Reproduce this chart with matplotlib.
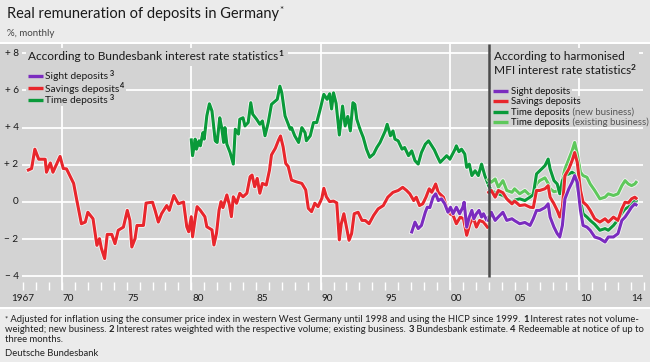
import matplotlib
matplotlib.use('Agg')
import matplotlib.pyplot as plt
import matplotlib.patheffects as pe
from matplotlib.patches import Rectangle
from matplotlib.lines import Line2D

# ---------------- data ----------------
# Bundesbank interest rate statistics
bb_savings_year = [1967.4, 1967.65, 1967.9, 1968.2, 1968.7, 1968.8, 1969.1, 1969.3, 1969.85, 1970.1,
                   1970.35, 1970.9, 1971.1, 1971.5, 1971.8, 1972.0, 1972.4, 1972.7, 1972.9, 1973.05,
                   1973.3, 1973.5, 1973.85, 1974.1, 1974.35, 1974.75, 1975.05, 1975.25, 1975.4, 1975.65,
                   1975.8, 1976.3, 1976.5, 1977.0, 1977.2, 1977.45, 1977.7, 1978.1, 1978.3, 1978.65,
                   1979.0, 1979.4, 1979.65, 1979.8, 1980.0, 1980.1, 1980.3, 1980.45, 1980.7, 1981.05,
                   1981.2, 1981.6, 1981.75, 1981.95, 1982.15, 1982.3, 1982.45, 1982.75, 1982.95, 1983.1,
                   1983.25, 1983.5, 1983.75, 1984.0, 1984.3, 1984.55, 1984.7, 1984.9, 1985.1, 1985.3,
                   1985.5, 1985.8, 1986.05, 1986.2, 1986.5, 1986.75, 1986.9, 1987.1, 1987.3, 1987.5,
                   1987.75, 1988.1, 1988.55, 1988.85, 1989.05, 1989.3, 1989.55, 1989.8, 1990.1, 1990.25,
                   1990.45, 1990.7, 1991.0, 1991.25, 1991.45, 1991.6, 1991.8, 1992.0, 1992.2, 1992.4,
                   1992.6, 1992.9, 1993.2, 1993.45, 1993.75, 1994.1, 1994.45, 1994.85, 1995.2, 1995.6,
                   1996.0, 1996.35, 1996.65, 1996.9, 1997.2, 1997.4, 1997.65, 1997.9, 1998.15, 1998.4,
                   1998.6, 1998.9, 1999.1, 1999.5, 1999.75, 2000.0, 2000.25, 2000.5, 2000.8, 2001.05,
                   2001.3, 2001.55, 2001.8, 2002.05, 2002.3, 2002.6, 2002.9]
bb_savings_value = [1.72, 1.8, 2.84, 2.3, 2.3, 1.6, 2.1, 1.6, 2.45, 1.8,
                    1.78, 1.0, 0.26, -1.17, -1.08, -0.55, -0.9, -2.33, -1.97, -2.5,
                    -3.04, -1.74, -1.74, -2.24, -1.52, -1.35, -0.45, -0.99, -2.42, -1.97,
                    -1.26, -1.26, -0.06, -0.01, -0.45, -1.08, -0.63, -0.19, -0.45, 0.35,
                    -0.1, 0.0, -1.33, -1.6, -0.79, -1.87, -0.88, -0.25, -0.45, -0.79,
                    -1.33, -1.5, -2.31, -1.68, -0.43, 0.02, -0.3, 0.38, -0.16, -0.79,
                    0.28, -0.07, 0.47, 0.28, 0.47, 1.36, 1.45, 0.82, 1.27, 0.47,
                    1.0, 0.91, 1.72, 2.53, 2.89, 3.33, 3.55, 2.97, 2.08, 1.9,
                    1.18, 1.09, 1.0, 0.65, -0.34, -0.52, -0.07, -0.25, 0.2, 0.74,
                    0.28, 0.02, 0.05, -0.05, -2.04, -1.17, -0.63, -1.35, -2.06, -1.7,
                    -0.63, -0.55, -0.99, -0.99, -1.17, -0.72, -0.37, -0.19, 0.26, 0.52,
                    0.62, 0.79, 0.62, 0.44, 0.08, 0.26, -0.19, -0.1, 0.26, 0.71,
                    0.52, 0.97, 0.52, 0.26, -0.28, -0.63, -0.72, -1.17, -0.81, -0.9,
                    -1.79, -1.17, -0.81, -1.35, -0.99, -1.08, -1.35]

bb_time_year = [1980.0, 1980.1, 1980.3, 1980.4, 1980.6, 1980.7, 1980.9, 1981.0, 1981.2, 1981.4,
                1981.6, 1981.7, 1981.85, 1982.0, 1982.2, 1982.35, 1982.5, 1982.6, 1982.75, 1983.0,
                1983.25, 1983.4, 1983.65, 1983.75, 1984.0, 1984.15, 1984.4, 1984.6, 1984.75, 1985.05,
                1985.3, 1985.5, 1985.7, 1985.95, 1986.2, 1986.5, 1986.65, 1986.85, 1987.0, 1987.25,
                1987.5, 1987.65, 1987.75, 1988.0, 1988.3, 1988.55, 1988.8, 1988.9, 1989.2, 1989.45,
                1989.7, 1990.0, 1990.25, 1990.5, 1990.7, 1990.85, 1991.0, 1991.2, 1991.45, 1991.7,
                1991.9, 1992.1, 1992.3, 1992.5, 1992.65, 1992.8, 1993.05, 1993.3, 1993.55, 1993.8,
                1994.1, 1994.35, 1994.6, 1995.0, 1995.15, 1995.4, 1995.6, 1995.75, 1996.0, 1996.3,
                1996.5, 1996.8, 1997.05, 1997.3, 1997.55, 1997.8, 1998.1, 1998.35, 1998.6, 1998.8,
                1999.0, 1999.25, 1999.5, 1999.75, 2000.0, 2000.4, 2000.5, 2000.7, 2000.9, 2001.15,
                2001.3, 2001.5, 2001.7, 2001.95, 2002.2, 2002.45, 2002.7, 2003.0]
bb_time_value = [3.34, 2.49, 3.38, 2.84, 3.29, 3.02, 3.73, 3.38, 4.63, 5.28,
                 4.89, 4.27, 3.29, 3.2, 4.53, 4.0, 3.2, 4.0, 3.11, 2.66,
                 2.04, 3.91, 3.65, 4.45, 4.53, 4.09, 4.27, 5.34, 4.72, 4.45,
                 4.18, 4.36, 3.56, 4.27, 5.25, 5.43, 5.52, 6.23, 5.87, 4.63,
                 4.18, 3.91, 4.0, 3.56, 3.2, 4.0, 3.73, 3.29, 3.56, 4.27,
                 4.27, 5.07, 5.79, 5.52, 5.82, 5.0, 5.87, 5.3, 3.6, 5.16,
                 4.09, 4.6, 3.82, 5.34, 5.25, 4.45, 3.91, 3.47, 2.84, 2.4,
                 2.58, 2.93, 3.2, 3.82, 4.18, 3.56, 3.82, 3.38, 3.29, 2.84,
                 2.93, 2.49, 2.75, 2.22, 2.04, 2.66, 3.11, 3.29, 3.02, 2.8,
                 2.49, 2.13, 2.31, 2.49, 2.3, 2.84, 3.02, 2.7, 2.84, 2.58,
                 1.86, 2.04, 1.42, 1.68, 1.42, 2.04, 1.42, 0.88]

bb_sight_year = [1997.05, 1997.3, 1997.55, 1997.8, 1998.1, 1998.25, 1998.45, 1998.7, 1998.9, 1999.1,
                 1999.35, 1999.6, 1999.85, 2000.05, 2000.25, 2000.5, 2000.75, 2001.0, 2001.1, 2001.3,
                 2001.5, 2001.7, 2001.85, 2002.05, 2002.25, 2002.45, 2002.6, 2002.85, 2003.0]
bb_sight_value = [-1.61, -1.08, -1.43, -1.26, -0.55, -0.28, -0.3, 0.26, 0.44, 0.08,
                  0.17, -0.1, -0.55, -0.28, -0.63, -0.28, -0.63, -0.28, -0.01, -1.35,
                  -0.81, -0.45, -0.9, -0.63, -0.45, -0.81, -0.63, -0.99, -0.81]

# Harmonised MFI interest rate statistics
mfi_year = [2003.0, 2003.2, 2003.5, 2003.75, 2004.1, 2004.4, 2004.8, 2005.0, 2005.4, 2005.8,
            2006.2, 2006.45, 2006.7, 2006.95, 2007.35, 2007.6, 2007.75, 2008.05, 2008.3, 2008.5,
            2008.7, 2008.9, 2009.2, 2009.45, 2009.65, 2009.85, 2010.1, 2010.3, 2010.6, 2010.85,
            2011.2, 2011.6, 2012.0, 2012.25, 2012.65, 2013.0, 2013.3, 2013.55, 2013.8, 2014.05,
            2014.3, 2014.4]
mfi_sight = [-0.99, -0.55, -0.99, -0.8, -0.55, -0.99, -0.9, -1.0, -1.17, -1.1,
             -1.26, -0.9, -0.45, -0.45, -0.3, -0.1, -0.81, -1.35, -1.7, -1.88,
             -1.26, 0.17, 0.71, 1.06, 1.42, 1.06, -0.45, -1.26, -1.35, -1.52,
             -1.88, -1.97, -2.15, -1.88, -1.88, -1.7, -0.99, -0.81, -0.55, -0.28,
             -0.1, -0.15]
mfi_savings = [0.52, 0.62, 0.26, 0.62, 0.5, 0.17, -0.1, 0.05, -0.19, -0.15,
               -0.28, -0.3, 0.62, 0.62, 0.71, 0.88, 0.26, -0.1, -0.45, -0.81,
               -0.28, 1.42, 1.78, 2.22, 2.66, 2.13, 0.62, -0.01, -0.19, -0.45,
               -0.9, -1.08, -0.9, -1.08, -0.81, -0.99, -0.37, -0.01, -0.05, 0.17,
               0.26, 0.2]
mfi_time_new = [0.88, 0.62, 0.5, 0.44, 0.35, 0.17, -0.01, 0.1, 0.17, 0.08,
                0.26, 0.4, 1.51, 1.68, 1.95, 2.31, 1.78, 1.15, 0.97, 0.44,
                1.15, 1.42, 1.51, 1.6, 1.5, 0.79, 0.08, -0.63, -0.81, -0.99,
                -1.2, -1.52, -1.43, -1.52, -1.26, -0.95, -0.6, -0.37, -0.28, -0.1,
                0.08, 0.05]
mfi_time_existing = [1.2, 1.06, 1.24, 0.79, 1.15, 0.62, 0.52, 0.71, 0.44, 0.62,
                     0.35, 0.52, 0.97, 1.15, 1.3, 1.0, 0.71, 0.55, 0.6, 0.52,
                     1.2, 1.78, 2.31, 2.75, 3.2, 2.58, 1.6, 1.42, 1.33, 0.97,
                     0.62, 0.17, 0.26, 0.44, 0.35, 0.44, 0.88, 1.15, 0.97, 0.88,
                     0.97, 1.06]

y_ticks = [-4, -2, 0, 2, 4, 6, 8]
y_tick_labels = ['\u2212 4', '\u2212 2', '0', '+ 2', '+ 4', '+ 6', '+ 8']
x_label_years = [1970, 1975, 1980, 1985, 1990, 1995, 2000, 2005, 2010, 2014]
x_labels = ['70', '75', '80', '85', '90', '95', '00', '05', '10', '14']
break_year = 2003.0

# ---------------- styling / layout ----------------
W, H = 650, 362
BG = '#d3d3d3'
BAND = '#ebebeb'
C_SIGHT = '#7b2cbf'
C_SAV = '#e8262c'
C_TNEW = '#0a9a3a'
C_TEX = '#5ec85c'
TXT = '#1a1a1a'

plt.rcParams['font.family'] = ['Lato', 'DejaVu Sans']
SANS = ['Lato', 'DejaVu Sans']

fig = plt.figure(figsize=(W / 100, H / 100), dpi=100)
fig.patch.set_facecolor(BAND)


def fx(p):
    return p / W


def fy(p):
    return 1 - p / H


AX_TOP, AX_BOT = 44.0, 307.0
ZERO_PX, PX_PER_UNIT = 202.0, 18.6
X0_PX, PX_PER_YEAR = 23.2, 12.93

ax = fig.add_axes([0, fy(AX_BOT), 1, (AX_BOT - AX_TOP) / H])
ax.set_facecolor(BG)
ax.set_xlim(1967 - X0_PX / PX_PER_YEAR, 1967 + (W - X0_PX) / PX_PER_YEAR)
ax.set_ylim(-(AX_BOT - ZERO_PX) / PX_PER_UNIT, (ZERO_PX - AX_TOP) / PX_PER_UNIT)
ax.set_xticks([])
ax.set_yticks([])
for s in ax.spines.values():
    s.set_visible(False)
ytop = ax.get_ylim()[1]

# white separators
fig.add_artist(Rectangle((0, fy(AX_TOP)), 1, 2.3 / H, transform=fig.transFigure,
                         facecolor='white', edgecolor='none', zorder=1))
fig.add_artist(Rectangle((0, fy(AX_BOT + 2.2)), 1, 2.2 / H, transform=fig.transFigure,
                         facecolor='white', edgecolor='none', zorder=1))

# grid
ax.hlines(y_ticks, 1966.9, 2014.9, colors='white', lw=1.3, zorder=1)
ax.vlines([1970, 1980, 1990, 2000, 2010], -4.73, ytop, colors='white', lw=1.3, zorder=1)
ax.vlines(list(range(1967, 2016)), -4.30, -4.73, colors='white', lw=1.0, zorder=1)

for v, lab in zip(y_ticks, y_tick_labels):
    ax.text(1966.64, v, lab, ha='right', va='center', fontsize=7.2, color=TXT, family=SANS)
ax.text(1967.0, -5.19, '1967', ha='center', va='center', fontsize=7.2, color=TXT, family=SANS)
for yr, lab in zip(x_label_years, x_labels):
    ax.text(yr + 0.5, -5.19, lab, ha='center', va='center', fontsize=7.2, color=TXT, family=SANS)

ax.vlines(break_year, -4.05, ytop, colors='#4a4a4a', lw=1.8, zorder=6)

halo = [pe.Stroke(linewidth=3.4, foreground='white', alpha=0.75), pe.Normal()]
LW = 2.2
ax.plot(bb_time_year, bb_time_value, color=C_TNEW, lw=LW, zorder=3, path_effects=halo)
ax.plot(bb_savings_year, bb_savings_value, color=C_SAV, lw=LW, zorder=3, path_effects=halo)
ax.plot(bb_sight_year, bb_sight_value, color=C_SIGHT, lw=LW, zorder=3, path_effects=halo)
ax.plot(mfi_year, mfi_time_existing, color=C_TEX, lw=LW, zorder=3, path_effects=halo)
ax.plot(mfi_year, mfi_time_new, color=C_TNEW, lw=LW, zorder=3, path_effects=halo)
ax.plot(mfi_year, mfi_savings, color=C_SAV, lw=LW, zorder=3, path_effects=halo)
ax.plot(mfi_year, mfi_sight, color=C_SIGHT, lw=LW, zorder=3, path_effects=halo)

# ---------------- text helpers ----------------
R = fig.canvas.get_renderer()


def text_w(s, **kw):
    t = fig.text(0, 0, '|' + s + '|', **kw)
    w1 = t.get_window_extent(R).width
    t.set_text('||')
    w2 = t.get_window_extent(R).width
    t.remove()
    return w1 - w2


def rich(x, base_y, parts, **base):
    cx = x
    for s, st in parts:
        kw = dict(base)
        kw.update(st)
        dy = kw.pop('dy', 0)
        fig.text(fx(cx), fy(base_y - dy), s, ha='left', va='baseline', **kw)
        cx += text_w(s, **kw)
    return cx


def box(x0, x1, y0, y1):
    fig.add_artist(Rectangle((fx(x0), fy(y1)), (x1 - x0) / W, (y1 - y0) / H,
                             transform=fig.transFigure, facecolor=BG, edgecolor='none', zorder=2))


def sample(x0, x1, y, color):
    fig.add_artist(Line2D([fx(x0), fx(x1)], [fy(y), fy(y)], color=color, lw=2.4,
                          transform=fig.transFigure, zorder=4, solid_capstyle='butt'))


SUP = {'fontsize': 5.4, 'dy': 3.4, 'weight': 'bold'}

# title area
rich(7, 18, [('Real remuneration of deposits in Germany', {}),
             ('*', {'fontsize': 7, 'dy': 5})], fontsize=10.5, color=TXT, zorder=5)
fig.text(fx(7), fy(33), '%, monthly', ha='left', va='center', fontsize=7.0, color='#444444',
         family=SANS, zorder=5)

# left heading + legend
end = rich(28.5, 60.5, [('According to Bundesbank interest rate statistics', {}),
                        ('1', dict(SUP, dy=4.5, fontsize=6))], fontsize=8.6, color=TXT, zorder=5)
box(26, end + 4, 48, 66)
left_rows = [('Sight deposits', ' 3', C_SIGHT, 76.0),
             ('Savings deposits', '4', C_SAV, 88.3),
             ('Time deposits', ' 3', C_TNEW, 100.0)]
LEG = dict(fontsize=7.4, color=TXT, family=SANS, zorder=5)
for i, (lab, sup, col, yc) in enumerate(left_rows):
    e = rich(45, yc + 3.2, [(lab, {}), (sup, SUP)], **LEG)
    box(26, e + 2, yc - 6.5 if i else 66, yc + 6.2)
    sample(28, 42.5, yc, col)

# right heading + legend
e1 = rich(493.5, 60.2, [('According to harmonised', {})], fontsize=8.6, color=TXT, zorder=5)
e2 = rich(493.5, 74.2, [('MFI interest rate statistics', {}), ('2', dict(SUP, dy=4.5, fontsize=6))],
          fontsize=8.6, color=TXT, zorder=5)
box(490.5, max(e1, e2) + 3, 48, 78)
right_rows = [('Sight deposits', '', C_SIGHT, 90.7),
              ('Savings deposits', '', C_SAV, 101.3),
              ('Time deposits', ' (new business)', C_TNEW, 111.7),
              ('Time deposits', ' (existing business)', C_TEX, 121.9)]
RLEG = dict(fontsize=6.9, color='#111111', family=SANS, zorder=5)
for lab, extra, col, yc in right_rows:
    parts = [(lab, {})]
    if extra:
        parts.append((extra, {'color': '#555555'}))
    e = rich(511, yc + 2.8, parts, **RLEG)
    box(490.5, e + 2, yc - 5.3, yc + 5.2)
    sample(493, 508.5, yc, col)

# footnotes
FN = dict(fontsize=6.85, color='#222222', family=SANS, zorder=5)
B = {'weight': 'bold'}
rich(5, 322.5, [('*', {'dy': 1.5, 'fontsize': 5.5}),
                (' Adjusted for inflation using the consumer price index in western West Germany until 1998 and using the HICP since 1999. ', {}),
                ('1', B), (' Interest rates not volume-', {})], **FN)
rich(5, 332.3, [('weighted; new business. ', {}), ('2', B),
                (' Interest rates weighted with the respective volume; existing business. ', {}),
                ('3', B), (' Bundesbank estimate. ', {}), ('4', B),
                (' Redeemable at notice of up to', {})], **FN)
rich(5, 342.0, [('three months.', {})], **FN)
rich(5, 356.5, [('Deutsche Bundesbank', {})], **FN)

fig.savefig('out.png', dpi=100, facecolor=fig.get_facecolor())
